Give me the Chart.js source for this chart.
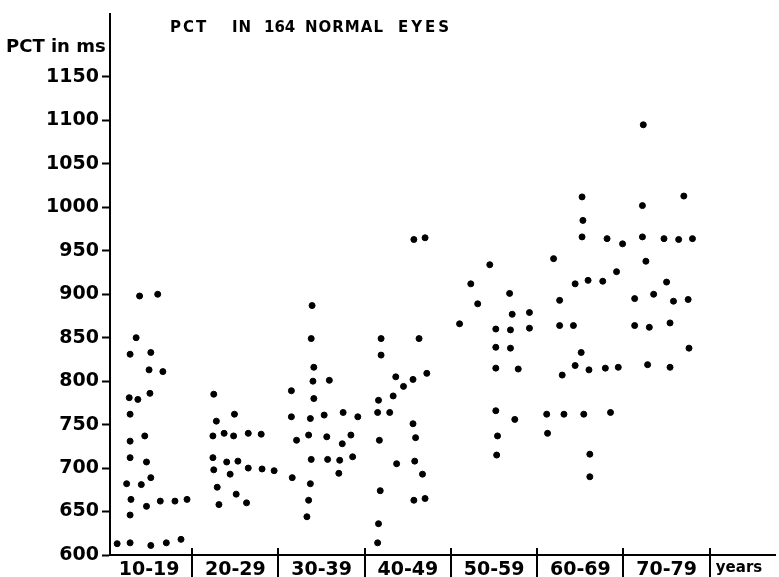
<!DOCTYPE html>
<html>
<head>
<meta charset="utf-8">
<script src="https://cdn.jsdelivr.net/npm/chart.js@4"></script>
<style>
  body { margin: 0; background: #fff; }
  #wrap { width: 779px; height: 577px; }
</style>
</head>
<body>
<div id="wrap"><canvas id="pctChart"></canvas></div>
<script>
// age groups along the bottom, plus the unit label at the end
const categories = ["10-19", "20-29", "30-39", "40-49", "50-59", "60-69", "70-79", "years"];
const yTicks = [600, 650, 700, 750, 800, 850, 900, 950, 1000, 1050, 1100, 1150];

// each dot: age (position inside its decade) and PCT in ms
const age10 = [13.9, 16.0, 13.5, 12.8, 15.2, 15.0, 16.6, 12.7, 13.7, 15.1, 12.8, 12.8, 14.5, 12.8, 14.7,
               12.4, 14.1, 15.2, 12.9, 14.7, 16.3, 18.0, 19.4, 12.8, 11.3, 12.8, 15.2, 17.0, 18.7];
const pct10 = [898, 900, 850, 831, 833, 813, 811, 781, 779, 786, 762, 731, 737, 712, 707,
               682, 681, 689, 664, 656, 662, 662, 664, 646, 613, 614, 611, 614, 618];

const age20 = [22.5, 24.9, 22.8, 22.4, 23.7, 24.8, 26.5, 28.0, 22.4, 24.0, 25.3, 22.5, 24.4, 26.5, 28.1,
               29.5, 22.9, 25.1, 23.1, 26.3];
const pct20 = [785, 762, 754, 737, 740, 737, 740, 739, 712, 707, 708, 698, 693, 700, 699,
               697, 678, 670, 658, 660];

const age30 = [33.9, 33.8, 34.1, 34.0, 35.9, 31.5, 34.1, 31.5, 33.7, 35.3, 37.5, 39.2, 32.1, 33.5, 35.6,
               37.4, 38.4, 33.8, 35.7, 37.1, 38.6, 31.6, 37.0, 33.7, 33.5, 33.3];
const pct30 = [887, 849, 816, 800, 801, 789, 780, 759, 757, 761, 764, 759, 732, 738, 736,
               728, 738, 710, 710, 709, 713, 689, 694, 682, 663, 644];

const age40 = [45.7, 47.0, 41.9, 46.3, 41.9, 47.2, 43.6, 45.6, 44.5, 43.3, 41.6, 41.5, 42.9, 45.6, 45.9,
               41.7, 43.7, 45.8, 46.7, 41.8, 45.7, 47.0, 41.6, 41.5];
const pct40 = [963, 965, 849, 849, 830, 809, 805, 802, 794, 783, 778, 764, 764, 751, 735,
               732, 705, 708, 693, 674, 663, 665, 636, 614];

const age50 = [54.5, 52.3, 56.8, 53.1, 57.1, 59.1, 51.0, 55.2, 56.9, 59.1, 55.2, 56.9, 55.2, 57.8, 55.2,
               57.4, 55.4, 55.3];
const pct50 = [934, 912, 901, 889, 877, 879, 866, 860, 859, 861, 839, 838, 815, 814, 766,
               756, 737, 715];

const age60 = [65.2, 65.3, 65.2, 68.1, 69.9, 61.9, 69.2, 64.4, 65.9, 67.6, 62.6, 62.6, 64.2, 65.1, 64.4,
               66.0, 67.9, 69.4, 62.9, 61.1, 63.1, 65.4, 68.5, 61.2, 66.1, 66.1];
const pct60 = [1012, 985, 966, 964, 958, 941, 926, 912, 916, 915, 893, 864, 864, 833, 818,
               813, 815, 816, 807, 762, 762, 762, 764, 740, 716, 690];

const age70 = [72.3, 77.0, 72.2, 72.2, 74.7, 76.4, 78.0, 72.6, 75.0, 71.3, 73.5, 75.8, 77.5, 71.3, 73.0,
               75.4, 77.6, 72.8, 75.4];
const pct70 = [1095, 1013, 1002, 966, 964, 963, 964, 938, 914, 895, 900, 892, 894, 864, 862,
               867, 838, 819, 816];

const allAges = [].concat(age10, age20, age30, age40, age50, age60, age70);
const allPct = [].concat(pct10, pct20, pct30, pct40, pct50, pct60, pct70);
const points = allAges.map((a, i) => ({ x: a, y: allPct[i] }));

// vertical strokes that split the age groups, plus title and axis caption
const decadeLines = {
    id: "decadeLines",
    afterDraw(chart) {
        const ctx = chart.ctx;
        const xs = chart.scales.x;
        const bottom = chart.chartArea.bottom;
        ctx.save();
        ctx.strokeStyle = "#000";
        ctx.lineWidth = 2;
        for (let i = 1; i < 8; i++) {
            const px = Math.round(xs.getPixelForValue(parseInt(categories[i - 1]) + 10));
            ctx.beginPath();
            ctx.moveTo(px, bottom - 7);
            ctx.lineTo(px, chart.height);
            ctx.stroke();
        }
        ctx.fillStyle = "#000";
        ctx.textBaseline = "middle";
        ctx.font = "bold 18px 'DejaVu Sans'";
        ctx.fillText("PCT in ms", 6, 47);

        ctx.font = "bold 15px 'DejaVu Sans'";
        const words = ["PCT", "IN", "164", "NORMAL", "EYES"];
        const starts = [170, 232, 264, 305, 398];
        const spacing = ["2px", "1px", "0px", "1px", "3px"];
        words.forEach((w, i) => {
            ctx.letterSpacing = spacing[i];
            ctx.fillText(w, starts[i], 28);
        });
        ctx.restore();
    }
};

new Chart(document.getElementById("pctChart"), {
    type: "scatter",
    data: {
        datasets: [{
            label: "PCT",
            data: points,
            backgroundColor: "#000",
            borderColor: "#000",
            pointRadius: 3,
            pointHoverRadius: 3
        }]
    },
    options: {
        responsive: true,
        maintainAspectRatio: false,
        animation: false,
        layout: { padding: { top: 12, left: 0, right: 0, bottom: 0 } },
        plugins: {
            legend: { display: false },
            tooltip: { enabled: false }
        },
        scales: {
            x: {
                type: "linear",
                min: 10.47,
                max: 87.57,
                afterFit: scale => { scale.height = 22; },
                afterBuildTicks: scale => {
                    scale.ticks = categories.map((c, i) => ({
                        value: i < 7 ? parseInt(c) + 5 : 83.4
                    }));
                },
                grid: { display: false },
                border: { display: true, color: "#000", width: 2 },
                ticks: {
                    autoSkip: false,
                    maxRotation: 0,
                    padding: -4,
                    color: "#000",
                    font: ctx => ctx.index === 7
                        ? { family: "'DejaVu Sans'", size: 15, weight: "bold" }
                        : { family: "'DejaVu Sans'", size: 19, weight: "bold" },
                    callback: (value, index) => categories[index]
                }
            },
            y: {
                min: 600,
                max: 1222,
                afterFit: scale => { scale.width = 110; },
                afterBuildTicks: scale => {
                    scale.ticks = yTicks.map(v => ({ value: v }));
                },
                grid: {
                    drawOnChartArea: false,
                    drawTicks: true,
                    tickLength: 8,
                    tickWidth: 2,
                    tickColor: "#000"
                },
                border: { display: true, color: "#000", width: 2 },
                ticks: {
                    padding: 3,
                    color: "#000",
                    font: { family: "'DejaVu Sans'", size: 19, weight: "bold" },
                    callback: value => String(value)
                }
            }
        }
    },
    plugins: [decadeLines]
});
</script>
</body>
</html>
